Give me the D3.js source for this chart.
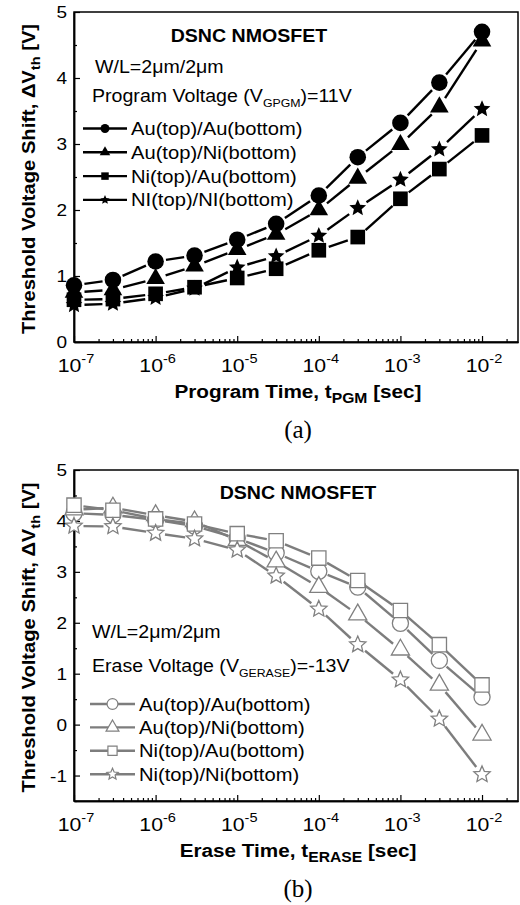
<!DOCTYPE html>
<html>
<head>
<meta charset="utf-8">
<script src="https://cdn.jsdelivr.net/npm/d3@7"></script>
<style>
    body { margin: 0; background: #fff; }
    text { font-family: "Liberation Sans", Arial, sans-serif; }
</style>
</head>
<body>
<svg id="chart" width="520" height="905"></svg>
<script>
// shared x values (seconds)
const times = [1e-7, 3e-7, 1e-6, 3e-6, 1e-5, 3e-5, 1e-4, 3e-4, 1e-3, 3e-3, 1e-2]
const xTickExps = [-7, -6, -5, -4, -3, -2]

// (a) program
const programLabels = ["Au(top)/Au(bottom)", "Au(top)/Ni(bottom)", "Ni(top)/Au(bottom)", "NI(top)/NI(bottom)"]
const programAuAu = [0.86, 0.94, 1.22, 1.31, 1.55, 1.79, 2.22, 2.80, 3.32, 3.93, 4.70]
const programAuNi = [0.75, 0.79, 0.96, 1.15, 1.40, 1.63, 2.00, 2.48, 2.99, 3.56, 4.56]
const programNiAu = [0.64, 0.65, 0.73, 0.83, 0.97, 1.11, 1.39, 1.59, 2.17, 2.62, 3.13]
const programNiNi = [0.56, 0.58, 0.67, 0.81, 1.13, 1.30, 1.61, 2.03, 2.46, 2.92, 3.53]
const programYTicks = [0, 1, 2, 3, 4, 5]

// (b) erase
const eraseLabels = ["Au(top)/Au(bottom)", "Au(top)/Ni(bottom)", "Ni(top)/Au(bottom)", "Ni(top)/Ni(bottom)"]
const eraseAuAu = [4.15, 4.12, 4.02, 3.90, 3.66, 3.37, 3.01, 2.70, 1.99, 1.26, 0.54]
const eraseAuNi = [4.22, 4.26, 4.11, 3.99, 3.62, 3.20, 2.70, 2.16, 1.47, 0.78, -0.20]
const eraseNiAu = [4.31, 4.21, 4.04, 3.94, 3.75, 3.61, 3.27, 2.83, 2.24, 1.57, 0.78]
const eraseNiNi = [3.90, 3.89, 3.76, 3.65, 3.43, 2.92, 2.27, 1.57, 0.88, 0.11, -0.98]
const eraseYTicks = [-1, 0, 1, 2, 3, 4, 5]

// Origin's star is fatter than d3.symbolStar; size = (outer diameter)^2
const fatStar = {
    draw(context, size) {
        const r = Math.sqrt(size) / 2
        for (let i = 0; i < 10; i++) {
            const a = -Math.PI / 2 + (i * Math.PI) / 5
            const rr = i % 2 ? r * 0.46 : r
            if (i === 0) context.moveTo(rr * Math.cos(a), rr * Math.sin(a))
            else context.lineTo(rr * Math.cos(a), rr * Math.sin(a))
        }
        context.closePath()
    }
}

const shapes = [d3.symbolCircle, d3.symbolTriangle, d3.symbolSquare, fatStar]
const shapeSizes = [215, 150, 215, 310]
const legendSizes = [62, 48, 56, 95]

const SX = 1.12 // the figure's font runs wider than Arial
const left = 74
const right = 518
const xEnd = 0.0276

const svg = d3.select("#chart")

// text with sub/superscript pieces: parts = [[str, "sub"|"sup"|"", size, offset], ...]
const richText = (parent, x, y, parts, opts = {}) => {
    const size = opts.size || 17
    const rot = opts.rotate ? " rotate(-90)" : ""
    const t = parent
        .append("text")
        .attr("transform", `translate(${x},${y})${rot} scale(${SX},1)`)
        .attr("font-size", size)
        .attr("font-weight", opts.bold ? "bold" : "normal")
        .attr("text-anchor", opts.anchor || "start")
        .attr("fill", "#000")
    let shift = 0
    parts.forEach(([str, kind, subSize, off]) => {
        const sp = t.append("tspan").text(str)
        let target = 0
        if (kind === "sub") target = off || size * 0.3
        if (kind === "sup") target = -(off || size * 0.45)
        if (kind) sp.attr("font-size", subSize || size * 0.7)
        if (target !== shift) sp.attr("dy", target - shift)
        shift = target
    })
    return t
}

const drawPanel = (cfg) => {
    const g = svg.append("g")
    const x = d3.scaleLog().domain([1e-7, xEnd]).range([left, right])
    const y = d3.scaleLinear().domain(cfg.yDomain).range([cfg.bottom, cfg.top])

    // frame
    g.append("rect")
        .attr("x", left)
        .attr("y", cfg.top)
        .attr("width", right - left)
        .attr("height", cfg.bottom - cfg.top)
        .attr("fill", "none")
        .attr("stroke", "#000")
        .attr("stroke-width", 1.5)

    const majors = xTickExps.map((e) => Math.pow(10, e))
    const minors = []
    xTickExps.forEach((e) => {
        for (let m = 2; m <= 9; m++) {
            const v = m * Math.pow(10, e)
            if (v <= xEnd) minors.push(v)
        }
    })

    const xAxis = g.append("g").attr("transform", `translate(0,${cfg.bottom})`)
    xAxis.call(d3.axisBottom(x).tickValues(majors).tickSize(-6).tickSizeOuter(0).tickFormat(""))
    xAxis.append("g").call(d3.axisBottom(x).tickValues(minors).tickSize(-3).tickSizeOuter(0).tickFormat(""))
    xAxis.selectAll("path.domain").attr("stroke-width", 1.5)
    xAxis.selectAll("line").attr("stroke-width", 1.2)

    const yMinor = d3.range(cfg.yDomain[0], cfg.yDomain[1], 0.5).filter((v) => v % 1 !== 0)
    const yAxis = g.append("g").attr("transform", `translate(${left},0)`)
    yAxis.call(d3.axisLeft(y).tickValues(cfg.yTicks).tickSize(-6).tickSizeOuter(0).tickFormat(""))
    yAxis.append("g").call(d3.axisLeft(y).tickValues(yMinor).tickSize(-3).tickSizeOuter(0).tickFormat(""))
    yAxis.selectAll("path.domain").attr("stroke-width", 1.5)
    yAxis.selectAll("line").attr("stroke-width", 1.2)

    // tick labels
    cfg.yTicks.forEach((v) => {
        richText(g, left - 7, y(v) + 6, [[String(v)]], { size: 17, anchor: "end" })
    })
    xTickExps.forEach((e) => {
        richText(g, x(Math.pow(10, e)) + 2, cfg.bottom + 30, [["10"], [String(e), "sup", 13, 9]], {
            size: 19,
            anchor: "middle"
        })
    })

    // axis titles
    richText(g, 35, (cfg.top + cfg.bottom) / 2 + 2,
        [["Threshold Voltage Shift, \u0394V"], ["th", "sub", 13, 5], [" [V]"]],
        { size: 18, bold: true, anchor: "middle", rotate: true })
    richText(g, 298, cfg.bottom + 56, cfg.xTitle, { size: 18.5, bold: true, anchor: "middle" })

    g.append("text")
        .attr("x", 298)
        .attr("y", cfg.bottom + 96)
        .attr("text-anchor", "middle")
        .style("font-family", "'Liberation Serif', 'Times New Roman', serif")
        .attr("font-size", 25)
        .text(cfg.tag)

    // annotations
    richText(g, cfg.titleX, cfg.titleY, [["DSNC NMOSFET"]], { size: 17.5, bold: true, anchor: "middle" })
    cfg.notes.forEach((n) => richText(g, n.x, n.y, n.parts, { size: 17.5 }))

    // series: line pieces stop short of each marker
    cfg.series.forEach((vals, i) => {
        const pts = times.map((t, k) => [x(t), y(vals[k])])
        const gap = cfg.gap
        const lines = g.append("g")
            .attr("stroke", cfg.lineColor)
            .attr("stroke-width", 2.4)
        for (let k = 0; k < pts.length - 1; k++) {
            const [x0, y0] = pts[k]
            const [x1, y1] = pts[k + 1]
            const len = Math.hypot(x1 - x0, y1 - y0)
            if (len <= 2 * gap) continue
            const ux = (x1 - x0) / len
            const uy = (y1 - y0) / len
            lines.append("line")
                .attr("x1", x0 + ux * gap)
                .attr("y1", y0 + uy * gap)
                .attr("x2", x1 - ux * gap)
                .attr("y2", y1 - uy * gap)
        }
        g.append("g")
            .selectAll("path")
            .data(pts)
            .join("path")
            .attr("transform", (p) => `translate(${p[0]},${p[1]})`)
            .attr("d", d3.symbol().type(shapes[i]).size(shapeSizes[i] * cfg.markerScale))
            .attr("fill", cfg.filled ? "#000" : "#fff")
            .attr("stroke", cfg.filled ? "none" : cfg.markerColor)
            .attr("stroke-width", 1.3)
    })

    // legend
    cfg.labels.forEach((label, i) => {
        const ly = cfg.legend.y + i * cfg.legend.step
        g.append("line")
            .attr("x1", cfg.legend.x0)
            .attr("x2", cfg.legend.x1)
            .attr("y1", ly)
            .attr("y2", ly)
            .attr("stroke", cfg.lineColor)
            .attr("stroke-width", 2.4)
        g.append("path")
            .attr("transform", `translate(${(cfg.legend.x0 + cfg.legend.x1) / 2},${ly})`)
            .attr("d", d3.symbol().type(shapes[i]).size(legendSizes[i] * cfg.legend.scale))
            .attr("fill", cfg.filled ? "#000" : "#fff")
            .attr("stroke", cfg.filled ? "none" : cfg.markerColor)
            .attr("stroke-width", 1.2)
        richText(g, cfg.legend.x1 + 4, ly + 6.5, [[label]], { size: 18 })
    })
}

drawPanel({
    top: 12,
    bottom: 342,
    yDomain: [0, 5],
    yTicks: programYTicks,
    series: [programAuAu, programAuNi, programNiAu, programNiNi],
    labels: programLabels,
    filled: true,
    lineColor: "#000",
    markerColor: "#000",
    markerScale: 1,
    gap: 10.5,
    xTitle: [["Program Time, t"], ["PGM", "sub", 14, 5], [" [sec]"]],
    tag: "(a)",
    titleX: 249,
    titleY: 42,
    notes: [
        { x: 95, y: 73, parts: [["W/L=2\u03bcm/2\u03bcm"]] },
        { x: 92, y: 102, parts: [["Program Voltage (V"], ["GPGM", "sub", 11, 5], [")=11V"]] }
    ],
    legend: { x0: 83, x1: 127, y: 128.5, step: 23.8, scale: 1 }
})

drawPanel({
    top: 470,
    bottom: 801,
    yDomain: [-1.5, 5],
    yTicks: eraseYTicks,
    series: [eraseAuAu, eraseAuNi, eraseNiAu, eraseNiNi],
    labels: eraseLabels,
    filled: false,
    lineColor: "#7d7d7d",
    markerColor: "#808080",
    markerScale: 0.95,
    gap: 9.5,
    xTitle: [["Erase Time, t"], ["ERASE", "sub", 14, 5], [" [sec]"]],
    tag: "(b)",
    titleX: 298,
    titleY: 499,
    notes: [
        { x: 92, y: 638, parts: [["W/L=2\u03bcm/2\u03bcm"]] },
        { x: 92, y: 672, parts: [["Erase Voltage (V"], ["GERASE", "sub", 11, 5], [")=-13V"]] }
    ],
    legend: { x0: 90, x1: 135, y: 704, step: 23.4, scale: 1.5 }
})
</script>
</body>
</html>
